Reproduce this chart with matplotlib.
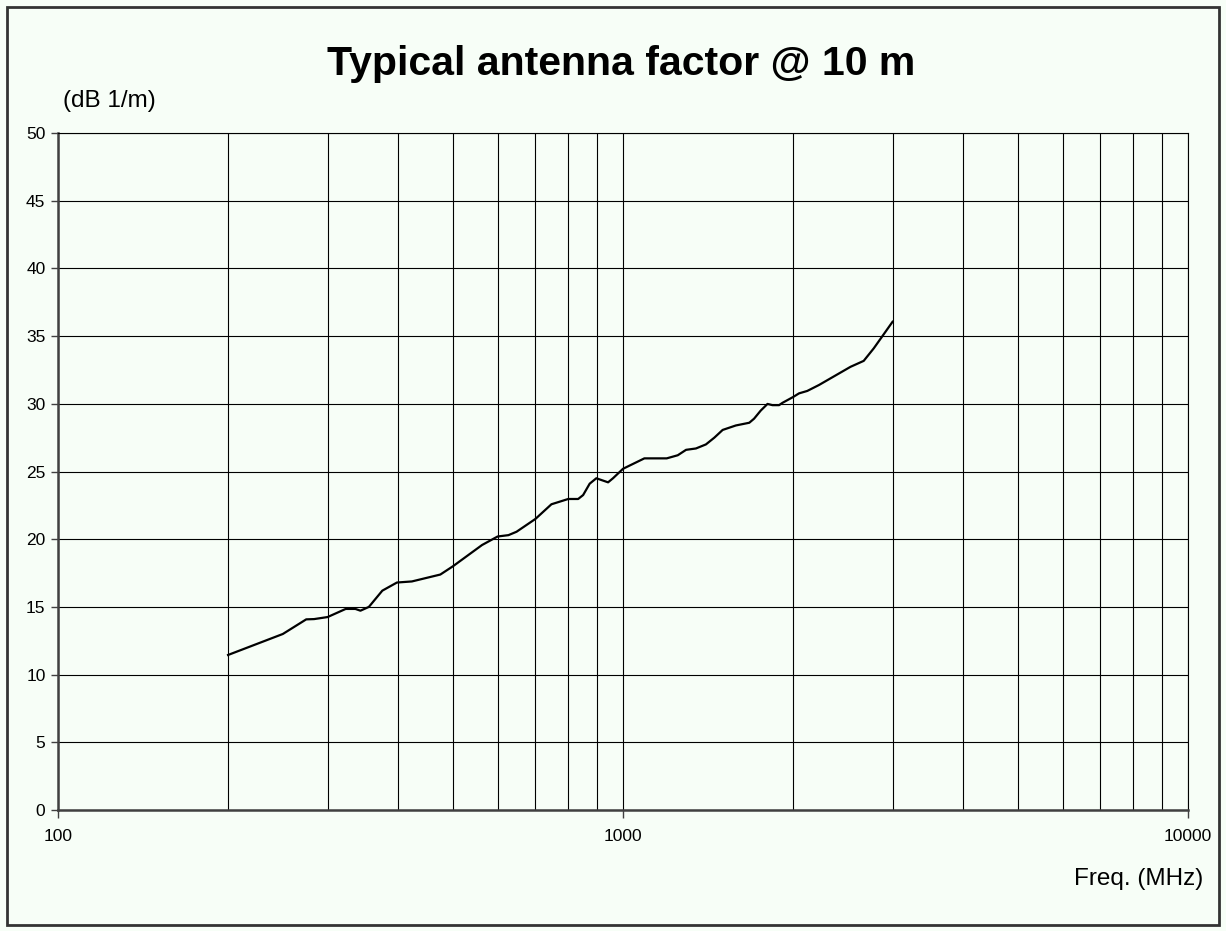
import matplotlib
matplotlib.use("Agg")
import matplotlib.pyplot as plt
from matplotlib.patches import Rectangle
from matplotlib.ticker import FixedLocator, NullFormatter

plt.rcParams["font.family"] = ["Liberation Sans", "DejaVu Sans"]

# antenna factor
freq_mhz = [200, 250, 275, 284, 300, 323, 336, 343, 355, 375, 398, 423, 475,
            500, 563, 600, 627, 648, 700, 747, 800, 833, 850, 873, 897, 941,
            960, 1000, 1091, 1195, 1250, 1293, 1346, 1402, 1451, 1501, 1584,
            1673, 1706, 1753, 1802, 1839, 1889, 1915, 2000, 2049, 2119, 2223,
            2527, 2667, 2779, 2874, 3000]
af_db = [11.45, 13.0, 14.08, 14.1, 14.25, 14.85, 14.85, 14.72, 15.0, 16.2,
         16.8, 16.88, 17.39, 18.0, 19.57, 20.2, 20.3, 20.55, 21.5, 22.58,
         22.97, 22.97, 23.26, 24.1, 24.5, 24.2, 24.5, 25.2, 25.97, 25.97,
         26.2, 26.6, 26.7, 27.0, 27.5, 28.07, 28.4, 28.6, 28.9, 29.5, 29.99,
         29.9, 29.9, 30.07, 30.5, 30.77, 30.95, 31.39, 32.73, 33.17, 34.1,
         34.96, 36.06]

y_ticks = list(range(0, 51, 5))
x_major = [100, 1000, 10000]
x_minor = [m * d for d in (100, 1000) for m in range(2, 10)]

bg = "#f7fef7"
fig = plt.figure(figsize=(12.26, 9.31), dpi=100, facecolor=bg)
ax = fig.add_axes([58 / 1226, 121 / 931, 1130 / 1226, 677 / 931], facecolor=bg)

ax.plot(freq_mhz, af_db, color="black", lw=1.6, zorder=3)

ax.set_xscale("log")
ax.set_xlim(100, 10000)
ax.set_ylim(0, 50)
ax.xaxis.set_major_locator(FixedLocator(x_major))
ax.xaxis.set_minor_locator(FixedLocator(x_minor))
ax.xaxis.set_minor_formatter(NullFormatter())
ax.set_xticklabels([str(v) for v in x_major])
ax.set_yticks(y_ticks)

ax.grid(True, which="both", axis="x", color="black", lw=0.8)
ax.grid(True, which="major", axis="y", color="black", lw=0.8)

ax.tick_params(axis="y", direction="out", length=5, width=1, color="#404040",
               labelsize=12.5, pad=4)
ax.tick_params(axis="x", which="major", direction="out", length=6, width=1,
               color="#404040", labelsize=12.5, pad=8)
ax.tick_params(axis="x", which="minor", length=0)

for side in ("left", "bottom"):
    ax.spines[side].set_color("#404040")
    ax.spines[side].set_linewidth(1.8)
for side in ("top", "right"):
    ax.spines[side].set_color("black")
    ax.spines[side].set_linewidth(0.8)

fig.text(621 / 1226, 1 - 64 / 931, "Typical antenna factor @ 10 m",
         ha="center", va="center", fontsize=29.5, fontweight="bold")
fig.text(63 / 1226, 1 - 101 / 931, "(dB 1/m)", ha="left", va="center",
         fontsize=17.5)
fig.text(1203 / 1226, 1 - 879 / 931, "Freq. (MHz)", ha="right",
         va="center", fontsize=17.5)

fig.patches.append(Rectangle((7 / 1226, 6 / 931), 1212 / 1226, 918 / 931,
                             transform=fig.transFigure, fill=False,
                             edgecolor="#333333", lw=2))

fig.savefig("out.png", dpi=100, facecolor=bg)
